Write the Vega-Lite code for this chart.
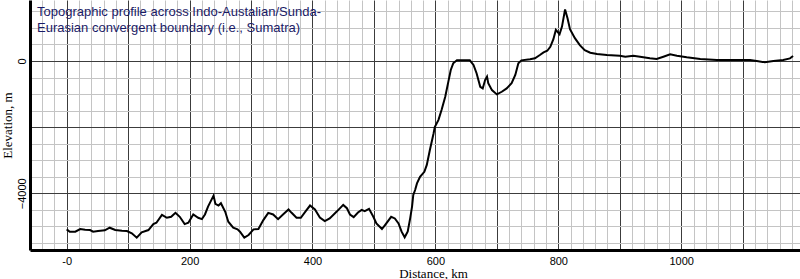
{
  "$schema": "https://vega.github.io/schema/vega-lite/v6.json",
  "width": 770,
  "height": 250,
  "autosize": "none",
  "padding": {"left": 30, "top": 0, "right": 0, "bottom": 29},
  "background": "white",
  "config": {"view": {"stroke": null}},
  "title": {
    "text": ["Topographic profile across Indo-Austalian/Sunda-", "Eurasian convergent boundary (i.e., Sumatra)"],
    "anchor": "start",
    "frame": "group",
    "orient": "top",
    "offset": -48,
    "baseline": "bottom",
    "dx": 7,
    "font": "Liberation Sans",
    "fontSize": 13,
    "fontWeight": "normal",
    "color": "#1a1a66",
    "lineHeight": 16.5
  },
  "data": {
    "values": [
      {"distance": 0, "elevation": -5090},
      {"distance": 5, "elevation": -5160},
      {"distance": 14, "elevation": -5160},
      {"distance": 22, "elevation": -5080},
      {"distance": 30, "elevation": -5100},
      {"distance": 38, "elevation": -5110},
      {"distance": 43, "elevation": -5160},
      {"distance": 51, "elevation": -5140},
      {"distance": 62, "elevation": -5120},
      {"distance": 70, "elevation": -5040},
      {"distance": 79, "elevation": -5110},
      {"distance": 90, "elevation": -5130},
      {"distance": 98, "elevation": -5140},
      {"distance": 106, "elevation": -5210},
      {"distance": 114, "elevation": -5340},
      {"distance": 122, "elevation": -5180},
      {"distance": 133, "elevation": -5110},
      {"distance": 141, "elevation": -4930},
      {"distance": 146, "elevation": -4890},
      {"distance": 155, "elevation": -4650},
      {"distance": 163, "elevation": -4740},
      {"distance": 170, "elevation": -4710},
      {"distance": 177, "elevation": -4590},
      {"distance": 184, "elevation": -4710},
      {"distance": 192, "elevation": -4930},
      {"distance": 198, "elevation": -4890},
      {"distance": 206, "elevation": -4640},
      {"distance": 214, "elevation": -4740},
      {"distance": 220, "elevation": -4780},
      {"distance": 225, "elevation": -4640},
      {"distance": 230, "elevation": -4400},
      {"distance": 239, "elevation": -4070},
      {"distance": 242, "elevation": -4320},
      {"distance": 247, "elevation": -4370},
      {"distance": 251, "elevation": -4300},
      {"distance": 258, "elevation": -4560},
      {"distance": 263, "elevation": -4860},
      {"distance": 271, "elevation": -5040},
      {"distance": 278, "elevation": -5090},
      {"distance": 282, "elevation": -5160},
      {"distance": 289, "elevation": -5340},
      {"distance": 296, "elevation": -5260},
      {"distance": 304, "elevation": -5090},
      {"distance": 312, "elevation": -5080},
      {"distance": 320, "elevation": -4810},
      {"distance": 328, "elevation": -4590},
      {"distance": 336, "elevation": -4640},
      {"distance": 344, "elevation": -4780},
      {"distance": 352, "elevation": -4640},
      {"distance": 361, "elevation": -4490},
      {"distance": 366, "elevation": -4590},
      {"distance": 374, "elevation": -4740},
      {"distance": 381, "elevation": -4740},
      {"distance": 389, "elevation": -4540},
      {"distance": 396, "elevation": -4370},
      {"distance": 404, "elevation": -4490},
      {"distance": 412, "elevation": -4730},
      {"distance": 420, "elevation": -4840},
      {"distance": 428, "elevation": -4760},
      {"distance": 439, "elevation": -4560},
      {"distance": 450, "elevation": -4350},
      {"distance": 456, "elevation": -4450},
      {"distance": 461, "elevation": -4640},
      {"distance": 467, "elevation": -4720},
      {"distance": 474, "elevation": -4580},
      {"distance": 480, "elevation": -4500},
      {"distance": 485, "elevation": -4540},
      {"distance": 492, "elevation": -4470},
      {"distance": 499, "elevation": -4710},
      {"distance": 504, "elevation": -4910},
      {"distance": 513, "elevation": -5080},
      {"distance": 518, "elevation": -4960},
      {"distance": 528, "elevation": -4710},
      {"distance": 534, "elevation": -4760},
      {"distance": 540, "elevation": -4910},
      {"distance": 545, "elevation": -5160},
      {"distance": 550, "elevation": -5330},
      {"distance": 555, "elevation": -5150},
      {"distance": 559, "elevation": -4750},
      {"distance": 562, "elevation": -4400},
      {"distance": 564, "elevation": -4050},
      {"distance": 567, "elevation": -3900},
      {"distance": 570, "elevation": -3700},
      {"distance": 575, "elevation": -3500},
      {"distance": 582, "elevation": -3350},
      {"distance": 586, "elevation": -3140},
      {"distance": 591, "elevation": -2690},
      {"distance": 597, "elevation": -2190},
      {"distance": 599, "elevation": -2000},
      {"distance": 605, "elevation": -1780},
      {"distance": 610, "elevation": -1480},
      {"distance": 616, "elevation": -1080},
      {"distance": 621, "elevation": -630},
      {"distance": 625, "elevation": -270},
      {"distance": 629, "elevation": -70},
      {"distance": 635, "elevation": 20},
      {"distance": 656, "elevation": 20},
      {"distance": 662, "elevation": -120},
      {"distance": 667, "elevation": -370},
      {"distance": 673, "elevation": -780},
      {"distance": 677, "elevation": -830},
      {"distance": 681, "elevation": -570},
      {"distance": 684, "elevation": -470},
      {"distance": 686, "elevation": -670},
      {"distance": 692, "elevation": -880},
      {"distance": 700, "elevation": -1010},
      {"distance": 708, "elevation": -930},
      {"distance": 716, "elevation": -830},
      {"distance": 724, "elevation": -670},
      {"distance": 730, "elevation": -420},
      {"distance": 735, "elevation": -70},
      {"distance": 740, "elevation": 20},
      {"distance": 754, "elevation": 50},
      {"distance": 762, "elevation": 80},
      {"distance": 770, "elevation": 180},
      {"distance": 776, "elevation": 260},
      {"distance": 782, "elevation": 310},
      {"distance": 787, "elevation": 430},
      {"distance": 792, "elevation": 660},
      {"distance": 796, "elevation": 940},
      {"distance": 802, "elevation": 810},
      {"distance": 806, "elevation": 1040},
      {"distance": 811, "elevation": 1560},
      {"distance": 815, "elevation": 1290},
      {"distance": 819, "elevation": 960},
      {"distance": 827, "elevation": 690},
      {"distance": 835, "elevation": 480},
      {"distance": 843, "elevation": 330},
      {"distance": 852, "elevation": 250},
      {"distance": 863, "elevation": 210},
      {"distance": 879, "elevation": 180},
      {"distance": 900, "elevation": 160},
      {"distance": 909, "elevation": 130},
      {"distance": 922, "elevation": 160},
      {"distance": 933, "elevation": 130},
      {"distance": 949, "elevation": 80},
      {"distance": 960, "elevation": 60},
      {"distance": 971, "elevation": 130},
      {"distance": 982, "elevation": 200},
      {"distance": 993, "elevation": 160},
      {"distance": 1009, "elevation": 110},
      {"distance": 1031, "elevation": 60},
      {"distance": 1058, "elevation": 30},
      {"distance": 1112, "elevation": 30},
      {"distance": 1123, "elevation": 0},
      {"distance": 1136, "elevation": -40},
      {"distance": 1150, "elevation": 0},
      {"distance": 1166, "elevation": 30},
      {"distance": 1177, "elevation": 80},
      {"distance": 1182, "elevation": 150}
    ]
  },
  "mark": {"type": "line", "color": "black", "strokeWidth": 2, "clip": true},
  "encoding": {
    "x": {
      "field": "distance",
      "type": "quantitative",
      "scale": {"domain": [-59.7, 1193.3], "nice": false, "zero": false},
      "axis": {
        "values": [-40,-20,0,20,40,60,80,100,120,140,160,180,200,220,240,260,280,300,320,340,360,380,400,420,440,460,480,500,520,540,560,580,600,620,640,660,680,700,720,740,760,780,800,820,840,860,880,900,920,940,960,980,1000,1020,1040,1060,1080,1100,1120,1140,1160,1180],
        "format": "d",
        "labelExpr": "datum.value % 200 === 0 ? (datum.value === 0 ? '-0' : datum.label) : ''",
        "labelFont": "Liberation Sans",
        "labelFontSize": 11,
        "labelColor": "black",
        "labelPadding": 5,
        "labelFlush": false,
        "labelOverlap": false,
        "ticks": false,
        "domain": true,
        "domainColor": "black",
        "domainWidth": 3,
        "grid": true,
        "gridColor": {"condition": {"test": "datum.value % 100 === 0", "value": "#3c3c3c"}, "value": "#c4c4c4"},
        "gridWidth": 1,
        "gridOpacity": 1,
        "title": "Distance, km",
        "titleFont": "Liberation Serif",
        "titleFontSize": 13,
        "titleFontWeight": "normal",
        "titleColor": "black",
        "titlePadding": 1,
        "titleX": 403
      }
    },
    "y": {
      "field": "elevation",
      "type": "quantitative",
      "scale": {"domain": [-5714, 1844], "nice": false, "zero": false},
      "axis": {
        "values": [-5500,-5000,-4500,-4000,-3500,-3000,-2500,-2000,-1500,-1000,-500,0,500,1000,1500],
        "format": "d",
        "labelExpr": "datum.value === 0 || datum.value === -4000 ? datum.label : ''",
        "labelAngle": -90,
        "labelAlign": "center",
        "labelBaseline": "bottom",
        "labelFont": "Liberation Sans",
        "labelFontSize": 11,
        "labelColor": "black",
        "labelPadding": 3,
        "labelOverlap": false,
        "labelFlush": false,
        "ticks": false,
        "domain": true,
        "domainColor": "black",
        "domainWidth": 3,
        "grid": true,
        "gridColor": {"condition": {"test": "datum.value % 2000 === 0", "value": "#3c3c3c"}, "value": "#c4c4c4"},
        "gridWidth": 1,
        "gridOpacity": 1,
        "title": "Elevation, m",
        "titleFont": "Liberation Serif",
        "titleFontSize": 13,
        "titleFontWeight": "normal",
        "titleColor": "black",
        "titlePadding": 2
      }
    }
  }
}
